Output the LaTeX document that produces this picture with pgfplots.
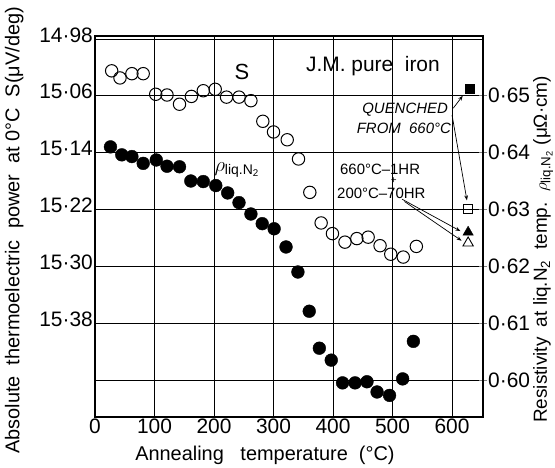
\documentclass[border=0pt]{standalone}
\usepackage{fontspec}
\setmainfont{Liberation Sans}
\usepackage{pgfplots}
\pgfplotsset{compat=1.18}
\usetikzlibrary{arrows.meta}

% thermoelectric power S (left scale, reversed)
\pgfplotstableread{
x S
28 15.025
42 15.035
62 15.029
81 15.029
102 15.058
121 15.059
142 15.072
162 15.061
182 15.053
202 15.051
221 15.062
242 15.062
262 15.067
282 15.096
300 15.111
323 15.122
342 15.149
361 15.196
380 15.239
399 15.254
420 15.266
440 15.261
459 15.259
479 15.271
497 15.283
518 15.287
540 15.272
}\Sdata

% resistivity at liq. N2 (right scale)
\pgfplotstableread{
x R
26 0.6410
45 0.6396
62 0.6393
81 0.6381
103 0.6387
121 0.6376
142 0.6375
161 0.6350
182 0.6349
203 0.6342
223 0.6329
242 0.6312
262 0.6292
281 0.6275
301 0.6266
321 0.6234
341 0.6190
360 0.6121
377 0.6056
397 0.6035
416 0.5995
437 0.5995
457 0.5997
474 0.5979
495 0.5973
517 0.6002
535 0.6068
}\Rdata

\newcommand{\tickf}{\fontsize{21}{21}\selectfont}
\newcommand{\labf}{\fontsize{20}{20}\selectfont}
\newcommand{\midf}{\fontsize{15}{15}\selectfont}

\begin{document}
\begin{tikzpicture}
\path[use as bounding box] (-95bp,-51bp) rectangle (460bp,417bp);
\begin{axis}[
  name=sax, at={(0,0)}, anchor=south west,
  scale only axis, width=388bp, height=381bp,
  xmin=0, xmax=652, ymin=14.976, ymax=15.512, y dir=reverse,
  xtick={0,100,200,300,400,500,600},
  xticklabels={0,100,200,300,400,500,600},
  ytick={14.98,15.06,15.14,15.22,15.30,15.38,15.46},
  yticklabels={14·98,15·06,15·14,15·22,15·30,15·38,{}},
  grid=major, major grid style={black, line width=0.6bp},
  axis line style={black, line width=1.2bp},
  major tick length=0pt,
  tick label style={font=\tickf, black},
  yticklabel style={inner sep=2bp, yshift=4bp},
  xticklabel style={inner sep=2bp},
  clip=false,
]
\addplot[only marks, mark=o, mark size=6.2bp, mark options={line width=1bp}] table[x=x, y=S] {\Sdata};
\end{axis}
\begin{axis}[
  at={(sax.south west)}, anchor=south west,
  scale only axis, width=388bp, height=381bp,
  xmin=0, xmax=652, ymin=0.5935, ymax=0.6605,
  axis x line=none, axis y line*=right,
  ytick={0.60,0.61,0.62,0.63,0.64,0.65},
  yticklabels={0·60,0·61,0·62,0·63,0·64,0·65},
  tick align=center, major tick length=8bp,
  major tick style={line width=1bp},
  axis line style={black, line width=1.2bp},
  tick label style={font=\tickf, black},
  yticklabel style={inner sep=1bp},
  clip=false,
]
\addplot[only marks, mark=*, mark size=6.4bp, black] table[x=x, y=R] {\Rdata};
\addplot[only marks, mark=square*, mark size=4.5bp, black] coordinates {(630,0.6513)};
\addplot[only marks, mark=square, mark size=4.5bp, black, mark options={line width=0.8bp}] coordinates {(627,0.6301)};
\addplot[only marks, mark=triangle*, mark size=6bp, black] coordinates {(627,0.6260)};
\addplot[only marks, mark=triangle, mark size=6bp, black, mark options={line width=0.9bp}] coordinates {(627,0.6241)};

\node[font=\fontsize{22}{22}\selectfont] at (axis cs:247,0.6542) {S};
\node[font=\fontsize{21}{21}\selectfont] at (axis cs:467,0.6552) {J.M. pure\ \ iron};
\node[font=\labf, anchor=west] at (axis cs:195,0.6370) {$\rho$\textsubscript{liq.N\textsubscript{2}}};
\node[font=\midf\itshape, anchor=east, inner sep=1bp] at (axis cs:595,0.6475) {QUENCHED};
\node[font=\midf\itshape, anchor=east, inner sep=1bp] at (axis cs:600,0.6443) {FROM\ \ 660°C};
\node[font=\midf, anchor=west, inner sep=1bp] at (axis cs:410,0.6371) {660°C–1HR};
\node[font=\fontsize{10}{10}\selectfont, inner sep=0bp] at (axis cs:502,0.6350) {+};
\node[font=\midf, anchor=west, inner sep=1bp] at (axis cs:405,0.6329) {200°C–70HR};

\draw[-{Stealth[length=5bp]}, line width=0.7bp] (axis cs:602,0.6478) -- (axis cs:618,0.6500);
\draw[-{Stealth[length=5bp]}, line width=0.7bp] (axis cs:600,0.6466) -- (axis cs:625,0.6316);
\draw[-{Stealth[length=5bp]}, line width=0.7bp] (axis cs:516,0.6318) -- (axis cs:614,0.6262);
\draw[-{Stealth[length=5bp]}, line width=0.7bp] (axis cs:520,0.6314) -- (axis cs:616,0.6245);

\node[font=\labf] at (rel axis cs:0.438,-0.10) {Annealing\ \ \ temperature\ \ (°C)};
\node[font=\labf, rotate=90] at (rel axis cs:-0.208,0.49) {Absolute\ \ thermoelectric\ \ power\ \ at 0°C\ \ S(μV/deg)};
\node[font=\fontsize{19}{19}\selectfont, rotate=90] at (rel axis cs:1.155,0.44) {Resistivity\ \ at liq.N\textsubscript{2}\ \ temp.\ \ $\rho$\textsubscript{liq.N\textsubscript{2}}\ (μΩ·cm)};
\end{axis}
\end{tikzpicture}
\end{document}
